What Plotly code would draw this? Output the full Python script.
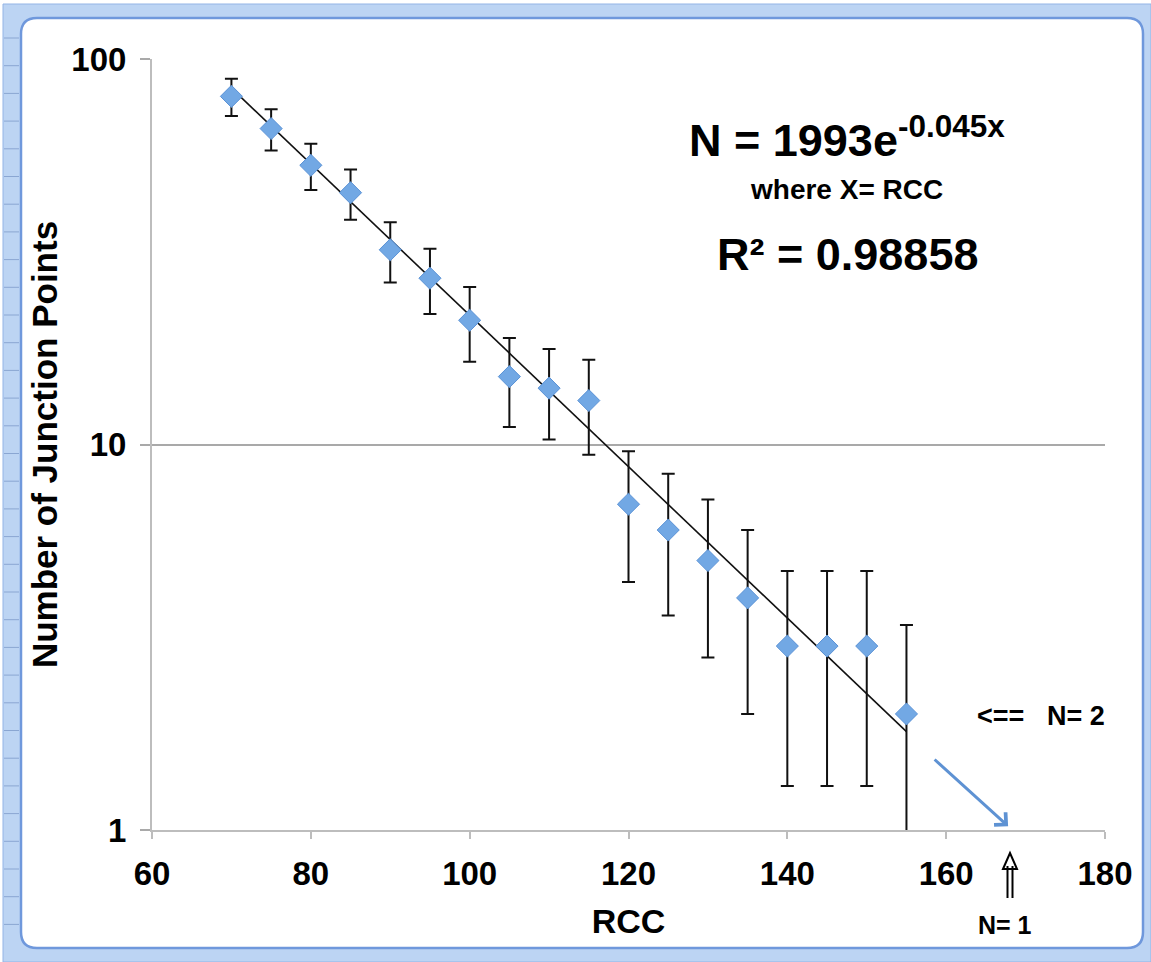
import plotly.graph_objects as go

# ---- data ----
rcc = [70, 75, 80, 85, 90, 95, 100, 105, 110, 115, 120, 125, 130, 135, 140, 145, 150, 155]
junction_points = [80, 66, 53, 45, 32, 27, 21, 15, 14, 13, 7, 6, 5, 4, 3, 3, 3, 2]
error = [8.9, 8.1, 7.3, 6.7, 5.7, 5.2, 4.6, 3.9, 3.7, 3.6, 2.6, 2.4, 2.2, 2.0, 1.7, 1.7, 1.7, 1.4]
trend_x = [70, 155]
trend_y = [84, 1.8]
x_ticks = [60, 80, 100, 120, 140, 160, 180]
y_ticks = [1, 10, 100]
y_tick_text = ["1", "10", "100"]

W, H = 1151, 962
L, R, T, B = 152, 1105, 59, 830  # plot area in pixels


def px(x):
    return (x - L) / (R - L)


def py(y):
    return (B - y) / (B - T)


FONT = "Liberation Sans, Arial, Helvetica, sans-serif"

fig = go.Figure()

fig.add_trace(go.Scatter(
    x=trend_x, y=trend_y, mode="lines",
    line=dict(color="#111111", width=1.6),
    showlegend=False, hoverinfo="skip",
))

fig.add_trace(go.Scatter(
    x=rcc, y=junction_points, mode="markers",
    marker=dict(symbol="diamond", size=17, color="#72a8e4",
                line=dict(color="#5a92d6", width=1)),
    error_y=dict(type="data", array=error, visible=True,
                 color="#111111", thickness=2, width=6.5),
    showlegend=False,
))

shapes = []
# outer light-blue frame band
shapes.append(dict(type="rect", xref="paper", yref="paper", layer="below",
                   x0=px(3), x1=px(1151), y0=py(962), y1=py(4),
                   fillcolor="#bcd4f3", line=dict(color="#93b4e6", width=1)))
# ruler ticks on the left band
for i in range(34):
    yy = 38 + i * 27.7
    if yy > 945:
        break
    shapes.append(dict(type="line", xref="paper", yref="paper", layer="below",
                       x0=px(4), x1=px(19), y0=py(yy), y1=py(yy),
                       line=dict(color="#8aa6d2", width=1)))
# inner white rounded panel
x0, x1, y0, y1, r = 21, 1143, 18, 948, 16
path = (f"M {px(x0 + r)},{py(y0)} L {px(x1 - r)},{py(y0)} "
        f"Q {px(x1)},{py(y0)} {px(x1)},{py(y0 + r)} "
        f"L {px(x1)},{py(y1 - r)} Q {px(x1)},{py(y1)} {px(x1 - r)},{py(y1)} "
        f"L {px(x0 + r)},{py(y1)} Q {px(x0)},{py(y1)} {px(x0)},{py(y1 - r)} "
        f"L {px(x0)},{py(y0 + r)} Q {px(x0)},{py(y0)} {px(x0 + r)},{py(y0)} Z")
shapes.append(dict(type="path", xref="paper", yref="paper", layer="below",
                   path=path, fillcolor="white",
                   line=dict(color="#6f98dc", width=2.5)))
# double-shafted up arrow (⇑) under the x axis near RCC 168
shapes.append(dict(type="path", xref="paper", yref="paper",
                   path=(f"M {px(1003)},{py(869)} L {px(1010)},{py(853)} "
                         f"L {px(1017)},{py(869)} Z"),
                   line=dict(color="black", width=2), fillcolor="white"))
for xx in (1007.5, 1012.5):
    shapes.append(dict(type="line", xref="paper", yref="paper",
                       x0=px(xx), x1=px(xx), y0=py(866), y1=py(898),
                       line=dict(color="black", width=2)))

annotations = [
    dict(x=px(847), y=py(137), xref="paper", yref="paper", showarrow=False,
         xanchor="center", yanchor="middle",
         text="N = 1993e<sup>-0.045x</sup>",
         font=dict(family=FONT, size=45, color="black", weight="bold")),
    dict(x=px(846), y=py(190), xref="paper", yref="paper", showarrow=False,
         xanchor="center", yanchor="middle",
         text="where X= RCC",
         font=dict(family=FONT, size=28, color="black", weight="bold")),
    dict(x=px(847), y=py(254), xref="paper", yref="paper", showarrow=False,
         xanchor="center", yanchor="middle",
         text="R² = 0.98858",
         font=dict(family=FONT, size=45, color="black", weight="bold")),
    dict(x=px(1000), y=py(716), xref="paper", yref="paper", showarrow=False,
         xanchor="center", yanchor="middle",
         text="<==",
         font=dict(family=FONT, size=27, color="black", weight="bold")),
    dict(x=px(1076), y=py(716), xref="paper", yref="paper", showarrow=False,
         xanchor="center", yanchor="middle",
         text="N= 2",
         font=dict(family=FONT, size=27, color="black", weight="bold")),
    dict(x=px(1005), y=py(925), xref="paper", yref="paper", showarrow=False,
         xanchor="center", yanchor="middle",
         text="N= 1",
         font=dict(family=FONT, size=25, color="black", weight="bold")),
    # blue arrow pointing to RCC ~168 at N = 1
    dict(x=167.8, y=0.01, xref="x", yref="y", ax=-75, ay=-68,
         showarrow=True, arrowhead=4, arrowsize=1.1, arrowwidth=3,
         arrowcolor="#5e92d3", text=""),
]

fig.update_layout(
    width=W, height=H,
    margin=dict(l=L, r=W - R, t=T, b=H - B, autoexpand=False),
    paper_bgcolor="white", plot_bgcolor="rgba(0,0,0,0)",
    font=dict(family=FONT, color="black"),
    shapes=shapes, annotations=annotations,
    xaxis=dict(
        range=[60, 180], tickvals=x_ticks, showgrid=False,
        showline=True, linecolor="#bdbdbd", linewidth=2,
        ticks="outside", ticklen=7, tickcolor="#bdbdbd", tickwidth=1.5,
        tickfont=dict(family=FONT, size=33, weight="bold", color="black"),
        ticklabelstandoff=6,
        title=dict(text="RCC", standoff=19,
                   font=dict(family=FONT, size=34, weight="bold", color="black")),
        automargin=False, zeroline=False,
    ),
    yaxis=dict(
        type="log", range=[0, 2], tickvals=y_ticks, ticktext=y_tick_text,
        showgrid=True, gridcolor="#a9a9a9", gridwidth=1.5,
        showline=True, linecolor="#bdbdbd", linewidth=2,
        ticks="outside", ticklen=10, tickcolor="#a9a9a9", tickwidth=1.5,
        tickfont=dict(family=FONT, size=33, weight="bold", color="black"),
        ticklabelstandoff=7,
        title=dict(text="Number of Junction Points", standoff=3,
                   font=dict(family=FONT, size=35, weight="bold", color="black")),
        automargin=False, zeroline=False,
    ),
)

fig.write_html("out.html",
               config={"displayModeBar": False},
               post_script="document.body.style.margin='0';"
                           "document.body.style.overflow='hidden';")
